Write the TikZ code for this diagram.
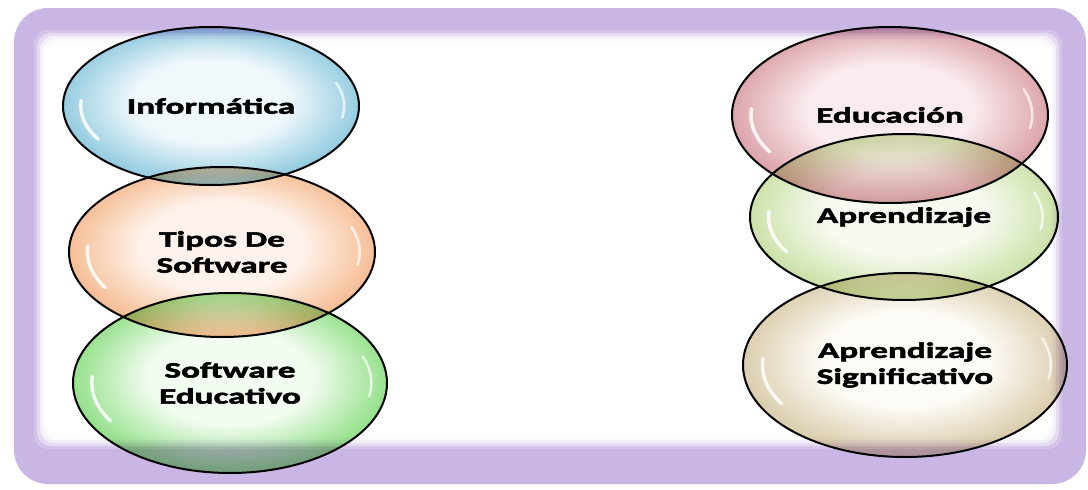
\documentclass[tikz,border=0pt]{standalone}
\usepackage{fontspec}
\newfontfamily\lblfont[FakeStretch=1.6, BoldFeatures={FakeStretch=1.6,FakeBold=2.5}]{Carlito}
\usetikzlibrary{shapes.geometric}
\definecolor{framepurple}{RGB}{202,182,228}
\definecolor{blueE}{RGB}{150,205,225}
\definecolor{blueC}{RGB}{240,248,252}
\definecolor{orangeE}{RGB}{246,190,150}
\definecolor{orangeC}{RGB}{254,243,236}
\definecolor{greenE}{RGB}{150,225,140}
\definecolor{greenC}{RGB}{242,252,240}
\definecolor{pinkE}{RGB}{220,165,172}
\definecolor{pinkC}{RGB}{250,236,238}
\definecolor{limeE}{RGB}{205,226,170}
\definecolor{limeC}{RGB}{246,250,240}
\definecolor{beigeE}{RGB}{220,206,175}
\definecolor{beigeC}{RGB}{253,251,246}
\pgfdeclareradialshading{shblue}{\pgfpoint{0bp}{2bp}}{color(0bp)=(blueC); color(13bp)=(blueC); color(25bp)=(blueE); color(50bp)=(blueE)}
\pgfdeclareradialshading{shorange}{\pgfpoint{0bp}{2bp}}{color(0bp)=(orangeC); color(13bp)=(orangeC); color(25bp)=(orangeE); color(50bp)=(orangeE)}
\pgfdeclareradialshading{shgreen}{\pgfpoint{0bp}{2bp}}{color(0bp)=(greenC); color(13bp)=(greenC); color(25bp)=(greenE); color(50bp)=(greenE)}
\pgfdeclareradialshading{shpink}{\pgfpoint{0bp}{2bp}}{color(0bp)=(pinkC); color(13bp)=(pinkC); color(25bp)=(pinkE); color(50bp)=(pinkE)}
\pgfdeclareradialshading{shlime}{\pgfpoint{0bp}{2bp}}{color(0bp)=(limeC); color(13bp)=(limeC); color(25bp)=(limeE); color(50bp)=(limeE)}
\pgfdeclareradialshading{shbeige}{\pgfpoint{0bp}{2bp}}{color(0bp)=(beigeC); color(13bp)=(beigeC); color(25bp)=(beigeE); color(50bp)=(beigeE)}
\begin{document}
\begin{tikzpicture}[x=1pt,y=-1pt,
  bubble/.style={ellipse, draw=black, line width=2pt, inner sep=0pt, align=center,
    font=\lblfont\bfseries\fontsize{22}{26}\selectfont, blend mode=multiply},
  blueb/.style={bubble, shading=shblue},
  orangeb/.style={bubble, shading=shorange},
  greenb/.style={bubble, shading=shgreen},
  pinkb/.style={bubble, shading=shpink},
  limeb/.style={bubble, shading=shlime},
  beigeb/.style={bubble, shading=shbeige},
  gloss/.style={white, line width=3.5pt, line cap=round, opacity=0.85}]
\useasboundingbox (0,0) rectangle (1088,490);
\fill[white] (0,0) rectangle (1088,490);
% frame
\fill[framepurple, rounded corners=34pt] (14,8) rectangle (1086,484);
\foreach \i/\o in {0/0.2,3/0.4,6/0.6,9/0.8,12/1} {
  \fill[white, fill opacity=\o, rounded corners=14pt] (34+\i,30+\i) rectangle (1062-\i,449-\i);
}
% left column
\node[blueb, minimum width=296pt, minimum height=158pt] (inf) at (211,106) {Informática};
\node[orangeb, minimum width=306pt, minimum height=170pt] (tipos) at (222,252) {Tipos De\\Software};
\node[greenb, minimum width=314pt, minimum height=180pt] (soft) at (230,383) {Software\\Educativo};
% right column
\node[pinkb, minimum width=316pt, minimum height=176pt] (edu) at (890,115) {Educación};
\node[limeb, minimum width=308pt, minimum height=166pt] (apr) at (904,217) {Aprendizaje};
\node[beigeb, minimum width=324pt, minimum height=184pt] (sig) at (905,365) {Aprendizaje\\Significativo};
% glossy highlights
\foreach \n/\rx/\ry in {inf/148/79, tipos/153/85, soft/157/90, edu/158/88, apr/154/83, sig/162/92} {
  \draw[gloss] (\n.center) ++(150:{0.88*\rx} and {0.84*\ry}) arc[start angle=150, end angle=185, x radius={0.88*\rx}, y radius={0.84*\ry}];
  \draw[gloss, line width=2.5pt, opacity=0.7] (\n.center) ++(10:{0.9*\rx} and {0.86*\ry}) arc[start angle=10, end angle=-20, x radius={0.9*\rx}, y radius={0.86*\ry}];
}
\end{tikzpicture}
\end{document}
